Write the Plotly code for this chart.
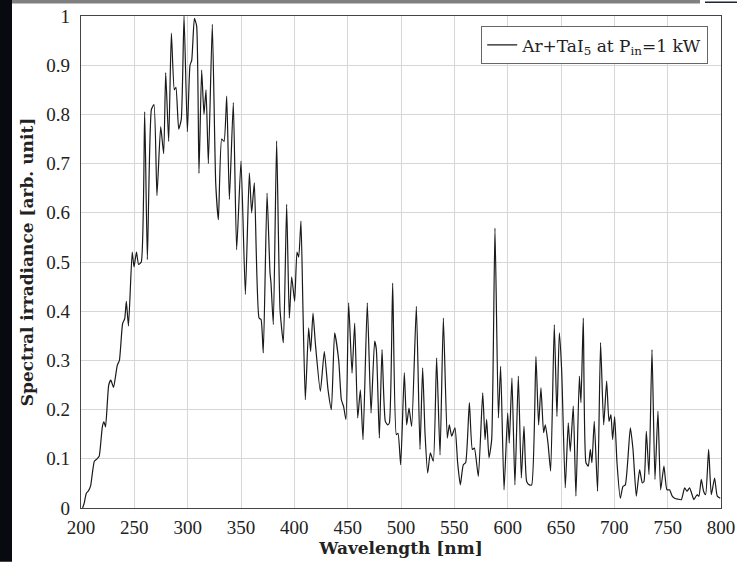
import plotly.graph_objects as go

wavelength = [
    201.5, 203, 205, 207, 209, 212.5, 215, 217, 220, 221.5, 223, 226, 228, 230.5, 234, 236,
    239, 241, 242.5, 244.5, 248, 249.7, 252, 254, 256.5, 259.7, 262.2, 266, 268.4, 271.2,
    274.7, 277.5, 279.4, 282.2, 284.7, 287.5, 289, 291.6, 294, 296.6, 299.7, 302.2, 303.8,
    306.3, 308.4, 310.6, 313.1, 315.3, 317.2, 319.4, 323.1, 326.3, 328.8, 331.9, 334.1,
    336.6, 339.1, 342.8, 345.9, 350, 354.1, 357.8, 360, 362.5, 366.9, 368.8, 370.9, 374.4,
    377.2, 378.1, 380.3, 383.4, 386.6, 389.7, 392.8, 395.3, 397.5, 400.3, 402.5, 404.1,
    406.2, 408.1, 410.3, 413.4, 415.3, 417.5, 419.7, 424.4, 428.1, 431.6, 434.7, 437.8,
    441.6, 444.1, 446.2, 448.4, 450.9, 454.1, 456.6, 459.4, 461.9, 464.4, 468.4, 471.9,
    475.3, 476.9, 479.7, 482.2, 485.3, 487.5, 489.1, 492.2, 495.6, 497.2, 499.7, 503.1,
    505.3, 507.5, 510, 514.4, 517.8, 520.3, 522.5, 525, 527.5, 530.3, 533.4, 536.6, 539.7,
    543.4, 545.3, 547.5, 550.6, 553.1, 555.6, 558.4, 560.6, 564.1, 566.9, 568.8, 572.5,
    576.6, 578.8, 580.3, 582.5, 585, 588.1, 591.3, 593.4, 596.6, 600, 601.5, 604, 606.8,
    610, 612.8, 615.3, 617.8, 620.3, 622.5, 626.5, 629, 631.2, 633.7, 635.3, 637.8, 640.3,
    643.7, 646.2, 648.4, 650.6, 654, 656.8, 658.7, 661.5, 664, 667.2, 668.7, 670.9, 673.4,
    675.6, 677.5, 679, 681.2, 684.3, 687.1, 690, 692.8, 695, 696.8, 698.4, 700.3, 702.5,
    705.6, 708.1, 710.3, 715, 717.5, 720.6, 723.7, 726.2, 727.8, 730, 732.5, 735.3, 738.1,
    740.9, 743.4, 746.5, 749.3, 751.8, 754.3, 756.5, 759.6, 762.8, 765.9, 768.1, 770.6,
    774.6, 777.5, 779.3, 781.5, 783.7, 785.6, 788.4, 790.9, 794, 796.5, 799.3,
]

irradiance = [
    0.0, 0.01, 0.03, 0.035, 0.045, 0.095, 0.10, 0.105, 0.165, 0.175, 0.165, 0.25, 0.26, 0.245,
    0.29, 0.30, 0.375, 0.385, 0.42, 0.37, 0.52, 0.49, 0.52, 0.495, 0.50, 0.805, 0.505, 0.81,
    0.82, 0.635, 0.775, 0.72, 0.885, 0.745, 0.965, 0.85, 0.855, 0.77, 0.79, 1.0, 0.765, 0.90,
    0.91, 0.995, 0.98, 0.68, 0.89, 0.80, 0.85, 0.70, 0.983, 0.66, 0.586, 0.75, 0.745, 0.837,
    0.627, 0.824, 0.525, 0.705, 0.434, 0.681, 0.60, 0.661, 0.386, 0.383, 0.315, 0.64, 0.478,
    0.458, 0.373, 0.746, 0.403, 0.336, 0.617, 0.386, 0.47, 0.42, 0.52, 0.51, 0.583, 0.403,
    0.22, 0.366, 0.318, 0.396, 0.335, 0.237, 0.318, 0.24, 0.20, 0.356, 0.30, 0.22, 0.206,
    0.18, 0.417, 0.274, 0.376, 0.183, 0.24, 0.139, 0.417, 0.193, 0.339, 0.322, 0.142, 0.322,
    0.176, 0.169, 0.173, 0.457, 0.149, 0.152, 0.088, 0.275, 0.169, 0.203, 0.166, 0.41,
    0.119, 0.285, 0.153, 0.071, 0.112, 0.095, 0.305, 0.108, 0.386, 0.142, 0.169, 0.146,
    0.163, 0.092, 0.047, 0.088, 0.092, 0.214, 0.119, 0.122, 0.064, 0.234, 0.139, 0.18,
    0.102, 0.139, 0.569, 0.183, 0.288, 0.037, 0.193, 0.132, 0.264, 0.047, 0.268, 0.061,
    0.166, 0.054, 0.047, 0.047, 0.308, 0.169, 0.244, 0.153, 0.169, 0.132, 0.075, 0.373,
    0.186, 0.356, 0.281, 0.041, 0.173, 0.115, 0.207, 0.024, 0.268, 0.214, 0.386, 0.092,
    0.085, 0.119, 0.092, 0.176, 0.034, 0.336, 0.169, 0.258, 0.176, 0.19, 0.139, 0.186,
    0.092, 0.02, 0.044, 0.047, 0.163, 0.119, 0.024, 0.078, 0.051, 0.054, 0.156, 0.068,
    0.322, 0.058, 0.197, 0.037, 0.085, 0.037, 0.037, 0.024, 0.02, 0.018, 0.017, 0.041,
    0.034, 0.041, 0.017, 0.027, 0.024, 0.058, 0.034, 0.027, 0.119, 0.027, 0.061, 0.024, 0.02,
]

x_ticks = [200, 250, 300, 350, 400, 450, 500, 550, 600, 650, 700, 750, 800]
y_ticks = [0, 0.1, 0.2, 0.3, 0.4, 0.5, 0.6, 0.7, 0.8, 0.9, 1]
y_tick_text = ["0", "0.1", "0.2", "0.3", "0.4", "0.5", "0.6", "0.7", "0.8", "0.9", "1"]

series_name = "Ar+TaI<sub>5</sub> at P<sub>in</sub>=1 kW"

fig = go.Figure()
fig.add_trace(go.Scatter(
    x=wavelength, y=irradiance, mode="lines", name=series_name,
    line=dict(color="#1a1a1a", width=1.2, shape="spline", smoothing=0.5),
    showlegend=True, hoverinfo="skip",
))

tick_font = dict(family="Liberation Serif", size=19, color="#222")
title_font = dict(family="DejaVu Serif", size=17, color="#222")

fig.update_layout(
    width=737, height=562,
    margin=dict(l=81, r=16, t=16, b=54, autoexpand=False),
    paper_bgcolor="white", plot_bgcolor="white",
    hovermode=False,
    xaxis=dict(
        range=[200, 800], tickvals=x_ticks, ticktext=[str(v) for v in x_ticks],
        showgrid=True, gridcolor="#d6d6d6", gridwidth=1,
        showline=True, linecolor="#444", linewidth=1.2, mirror=True,
        ticks="", tickfont=tick_font, ticklabelstandoff=2, automargin=False,
        title=dict(text="<b>Wavelength [nm]</b>", font=title_font, standoff=4),
        zeroline=False,
    ),
    yaxis=dict(
        range=[0, 1], tickvals=y_ticks, ticktext=y_tick_text,
        showgrid=True, gridcolor="#d6d6d6", gridwidth=1,
        showline=True, linecolor="#444", linewidth=1.2, mirror=True,
        ticks="", tickfont=tick_font, ticklabelstandoff=6, automargin=False,
        title=dict(text="<b>Spectral irradiance [arb. unit]</b>", font=title_font, standoff=8),
        zeroline=False,
    ),
    legend=dict(
        x=0.98, y=0.979, xanchor="right", yanchor="top",
        bgcolor="white", bordercolor="#666", borderwidth=1,
        font=dict(family="DejaVu Serif", size=17, color="#222"),
        itemwidth=30,
    ),
    shapes=[
        dict(type="rect", xref="paper", yref="paper",
             x0=-81 / 640, x1=(12 - 81) / 640, y0=(508.3 - 562) / 491.8, y1=508.3 / 491.8,
             fillcolor="#070b10", line=dict(width=0), layer="above"),
        dict(type="rect", xref="paper", yref="paper",
             x0=(12 - 81) / 640, x1=(700 - 81) / 640, y0=(508.3 - 4) / 491.8, y1=508.3 / 491.8,
             fillcolor="#808080", line=dict(width=0), layer="above"),
        dict(type="rect", xref="paper", yref="paper",
             x0=(705 - 81) / 640, x1=(737 - 81) / 640, y0=(508.3 - 3.5) / 491.8, y1=(508.3 - 2) / 491.8,
             fillcolor="#1c2733", line=dict(width=0), layer="above"),
    ],
)

fig.write_html(
    "out.html",
    config={"displayModeBar": False},
    post_script="document.body.style.margin='0';",
)
